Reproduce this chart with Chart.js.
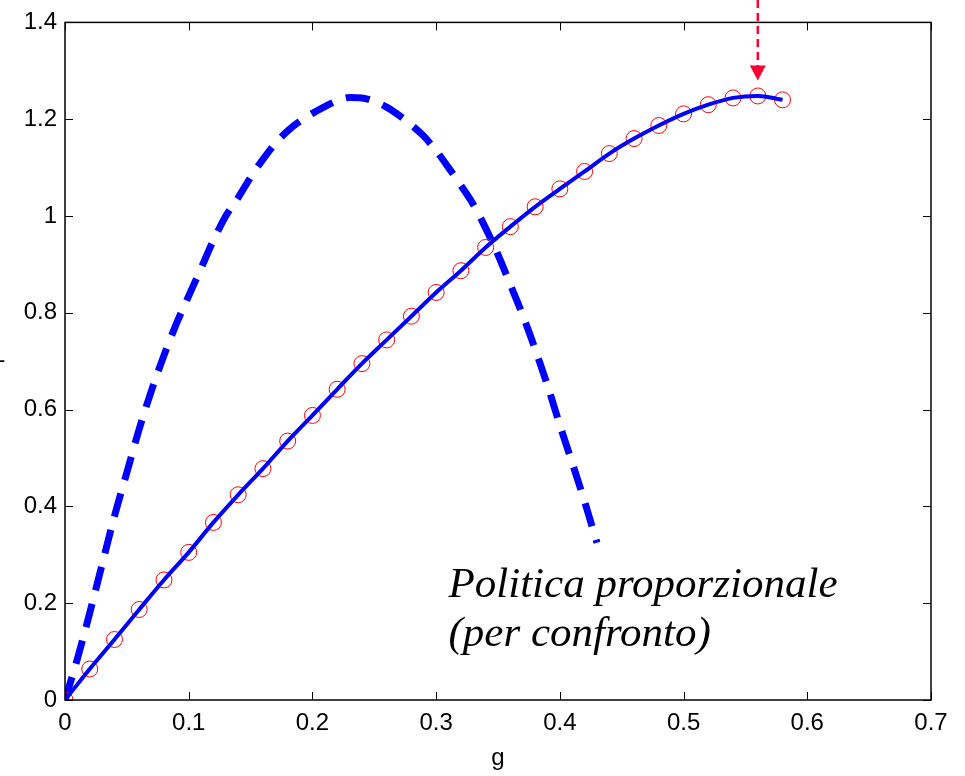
<!DOCTYPE html>
<html>
<head>
<meta charset="utf-8">
<script src="https://cdn.jsdelivr.net/npm/chart.js@4.4.1/dist/chart.umd.min.js"></script>
<style>
  html, body { margin: 0; padding: 0; background: #fff; }
  #wrap { width: 965px; height: 776px; }
</style>
</head>
<body>
<div id="wrap"><canvas id="c"></canvas></div>
<script>
// optimal policy (solid line + circle markers)
var gOpt = [0, 0.02, 0.04, 0.06, 0.08, 0.10, 0.12, 0.14, 0.16, 0.18, 0.20, 0.22, 0.24, 0.26, 0.28,
            0.30, 0.32, 0.34, 0.36, 0.38, 0.40, 0.42, 0.44, 0.46, 0.48, 0.50, 0.52, 0.54, 0.56, 0.58];
var valOpt = [0, 0.064, 0.125, 0.187, 0.248, 0.305, 0.367, 0.424, 0.478, 0.535, 0.588, 0.642, 0.695, 0.744, 0.793,
              0.842, 0.887, 0.935, 0.978, 1.019, 1.056, 1.092, 1.129, 1.160, 1.187, 1.211, 1.230, 1.244, 1.248, 1.240];

// proportional policy (dashed, for comparison)
var gProp = [0, 0.01, 0.02, 0.03, 0.04, 0.05, 0.06, 0.07, 0.08, 0.09, 0.10, 0.11, 0.12, 0.13, 0.14,
             0.15, 0.16, 0.17, 0.18, 0.19, 0.20, 0.21, 0.22, 0.23, 0.24, 0.25, 0.26, 0.27, 0.28, 0.29,
             0.30, 0.31, 0.32, 0.33, 0.34, 0.35, 0.36, 0.37, 0.38, 0.39, 0.40, 0.41, 0.42, 0.43];
var valProp = [0, 0.085, 0.18, 0.28, 0.38, 0.47, 0.56, 0.64, 0.712, 0.777, 0.835, 0.892, 0.95, 1.0, 1.038,
               1.08, 1.117, 1.15, 1.176, 1.196, 1.212, 1.226, 1.238, 1.245, 1.244, 1.237, 1.225, 1.208, 1.188, 1.165,
               1.135, 1.10, 1.063, 1.024, 0.975, 0.92, 0.858, 0.795, 0.725, 0.65, 0.568, 0.49, 0.41, 0.325];

var xTicks = [0, 0.1, 0.2, 0.3, 0.4, 0.5, 0.6, 0.7];
var yTicks = [0, 0.2, 0.4, 0.6, 0.8, 1, 1.2, 1.4];

var noteLines = ['Politica proporzionale', '(per confronto)'];
var noteX = 0.31;
var noteY = [0.213, 0.111];
var arrowX = 0.56;
var arrowTip = 1.28;

function pairs(xs, ys) {
  return xs.map(function (x, i) { return { x: x, y: ys[i] }; });
}

// matlab style box, inner ticks, arrow and note
var matlabBox = {
  id: 'matlabBox',
  afterDraw: function (chart) {
    var ctx = chart.ctx, a = chart.chartArea;
    var xs = chart.scales.x, ys = chart.scales.y;
    ctx.save();
    ctx.strokeStyle = '#000';
    ctx.lineWidth = 1.5;
    ctx.strokeRect(a.left, a.top, a.right - a.left, a.bottom - a.top);
    ctx.lineWidth = 1;
    ctx.beginPath();
    xTicks.forEach(function (t) {
      var px = Math.round(xs.getPixelForValue(t)) + 0.5;
      ctx.moveTo(px, a.bottom); ctx.lineTo(px, a.bottom - 8);
      ctx.moveTo(px, a.top); ctx.lineTo(px, a.top + 8);
    });
    yTicks.forEach(function (t) {
      var py = Math.round(ys.getPixelForValue(t)) + 0.5;
      ctx.moveTo(a.left, py); ctx.lineTo(a.left + 8, py);
      ctx.moveTo(a.right, py); ctx.lineTo(a.right - 8, py);
    });
    ctx.stroke();

    // red dashed arrow
    var ax = xs.getPixelForValue(arrowX);
    var tip = ys.getPixelForValue(arrowTip);
    ctx.strokeStyle = '#ff0033';
    ctx.fillStyle = '#ff0033';
    ctx.lineWidth = 2.5;
    ctx.setLineDash([8, 5]);
    ctx.beginPath();
    ctx.moveTo(ax, 0);
    ctx.lineTo(ax, tip - 12);
    ctx.stroke();
    ctx.setLineDash([]);
    ctx.beginPath();
    ctx.moveTo(ax - 8, tip - 15);
    ctx.lineTo(ax + 8, tip - 15);
    ctx.lineTo(ax, tip);
    ctx.closePath();
    ctx.fill();

    // annotation
    ctx.fillStyle = '#000';
    ctx.font = 'italic 43px "Liberation Serif", "Times New Roman", serif';
    ctx.textAlign = 'left';
    ctx.textBaseline = 'alphabetic';
    noteLines.forEach(function (s, i) {
      ctx.fillText(s, xs.getPixelForValue(noteX), ys.getPixelForValue(noteY[i]));
    });

    // clipped y label fragment at the left edge
    ctx.font = '22px "Liberation Sans", Arial, sans-serif';
    ctx.textBaseline = 'middle';
    ctx.fillText('-', -2, ys.getPixelForValue(0.7));
    ctx.restore();
  }
};

var tickFont = { family: '"Liberation Sans", Arial, sans-serif', size: 24 };
function fmt(v) { return String(Math.round(v * 10) / 10); }

new Chart(document.getElementById('c'), {
  type: 'line',
  data: {
    datasets: [
      {
        data: pairs(gOpt, valOpt),
        borderColor: '#0000ff',
        borderWidth: 4,
        pointRadius: 0,
        cubicInterpolationMode: 'monotone',
        fill: false
      },
      {
        data: pairs(gOpt, valOpt),
        showLine: false,
        pointStyle: 'circle',
        pointRadius: 8,
        pointBorderWidth: 1,
        pointBorderColor: '#ff0000',
        pointBackgroundColor: 'rgba(0,0,0,0)'
      },
      {
        data: pairs(gProp, valProp),
        borderColor: '#0000ff',
        borderWidth: 7,
        borderDash: [24, 14],
        borderCapStyle: 'butt',
        pointRadius: 0,
        cubicInterpolationMode: 'monotone',
        fill: false
      }
    ]
  },
  options: {
    responsive: true,
    maintainAspectRatio: false,
    animation: false,
    events: [],
    layout: { padding: { top: 17, right: 34, left: 0, bottom: 0 } },
    plugins: { legend: { display: false }, tooltip: { enabled: false } },
    scales: {
      x: {
        type: 'linear',
        min: 0, max: 0.7,
        afterBuildTicks: function (s) { s.ticks = xTicks.map(function (v) { return { value: v }; }); },
        afterFit: function (s) { s.height = 76; },
        grid: { display: false, drawTicks: false },
        border: { display: false },
        ticks: { color: '#000', padding: 9, maxRotation: 0, font: tickFont, callback: fmt },
        title: { display: true, text: 'g', color: '#000', padding: { top: 0, bottom: 3 }, font: tickFont }
      },
      y: {
        type: 'linear',
        min: 0, max: 1.4,
        afterBuildTicks: function (s) { s.ticks = yTicks.map(function (v) { return { value: v }; }); },
        afterFit: function (s) { s.width = 65; },
        grid: { display: false, drawTicks: false },
        border: { display: false },
        ticks: { color: '#000', padding: 8, font: tickFont, callback: fmt }
      }
    }
  },
  plugins: [matlabBox]
});
</script>
</body>
</html>
